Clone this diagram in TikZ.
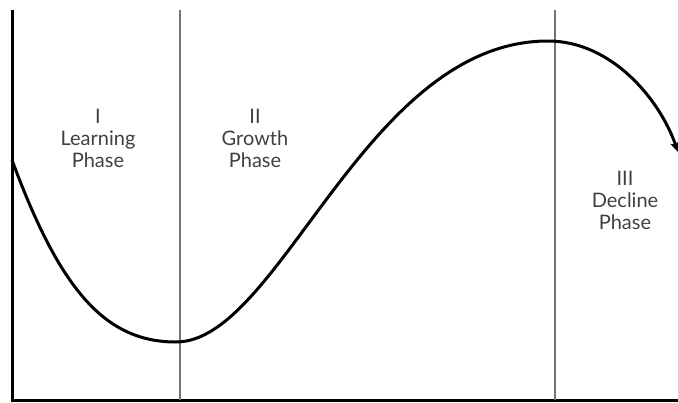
\documentclass[tikz,border=0pt]{standalone}
\usepackage{fontspec}
\setmainfont{Lato}
\usetikzlibrary{arrows.meta, positioning}

\begin{document}
\begin{tikzpicture}[
  x=1pt, y=-1pt,
  font=\fontsize{20}{22}\selectfont,
  axis/.style={draw=black, line width=3pt},
  divider/.style={draw=black!55, line width=1.6pt},
  phase/.style={align=center, inner sep=0pt, text=black!75},
  curve/.style={draw=black, line width=3pt,
                -{Stealth[length=10pt, width=9pt, inset=2pt]}}]

  \useasboundingbox (0,0) rectangle (678,402);

  % axes
  \coordinate (top) at (12,10);
  \coordinate (origin) at (12,400);
  \coordinate (right) at (678,400);
  \draw[axis] (top) -- (origin) -- (right);

  % phase dividers
  \coordinate (d1top) at (180,10);
  \coordinate (d2top) at (555,10);
  \draw[divider] (d1top) -- (d1top |- origin);
  \draw[divider] (d2top) -- (d2top |- origin);

  % phase labels
  \node[phase] (p1) at (98,138) {I\\Learning\\Phase};
  \node[phase] (p2) at (255,138) {II\\Growth\\Phase};
  \node[phase] (p3) at (625,200) {III\\Decline\\Phase};

  % life cycle
  \draw[curve] (12,160) .. controls (60,290) and (105,342) .. (176,342)
    .. controls (280,342) and (365,41) .. (548,41)
    .. controls (612,41) and (660,100) .. (678,152);
\end{tikzpicture}
\end{document}
